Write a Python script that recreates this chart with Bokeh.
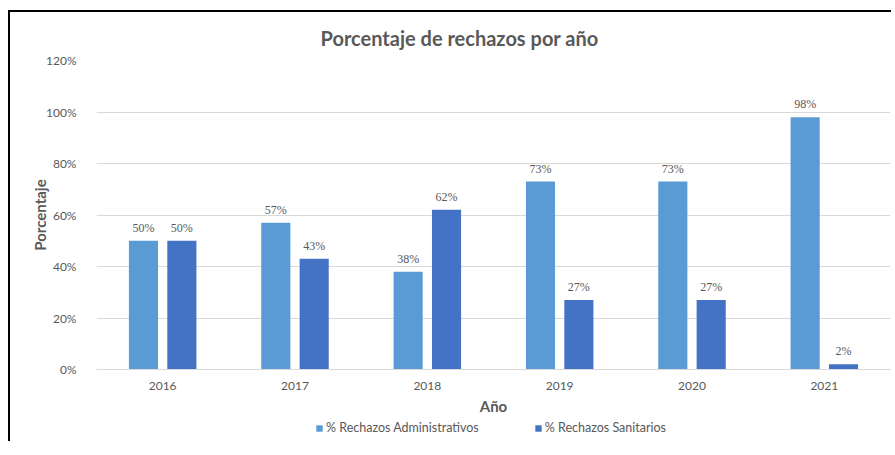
from bokeh.plotting import figure
from bokeh.models import (FactorRange, NumeralTickFormatter, Legend, LegendItem,
                          ColumnDataSource, Range1d, Title)
from bokeh.layouts import column
from bokeh.transform import dodge
from bokeh.embed import file_html
from bokeh.resources import INLINE

years = ["2016", "2017", "2018", "2019", "2020", "2021"]
admin = [0.50, 0.57, 0.38, 0.73, 0.73, 0.98]
sanit = [0.50, 0.43, 0.62, 0.27, 0.27, 0.02]
admin_labels = ["50%", "57%", "38%", "73%", "73%", "98%"]
sanit_labels = ["50%", "43%", "62%", "27%", "27%", "2%"]
y_ticks = [0, 0.2, 0.4, 0.6, 0.8, 1.0, 1.2]
series_names = ["% Rechazos Administrativos", "% Rechazos Sanitarios"]

FONT = "Lato"
TXT = "#595959"
C_ADMIN = "#5B9BD5"
C_SANIT = "#4472C4"

src = ColumnDataSource(dict(year=years, admin=admin, sanit=sanit,
                            admin_lbl=admin_labels, sanit_lbl=sanit_labels))

p = figure(x_range=FactorRange(*years, range_padding=0), y_range=Range1d(0, 1.2),
           frame_width=794, frame_height=309,
           min_border_left=86, min_border_right=3, min_border_top=48, min_border_bottom=46,
           output_backend="svg", toolbar_location=None, title=None)

t = Title(text="Porcentaje de rechazos por año", align="left", offset=224,
          text_font=FONT, text_font_size="20px", text_font_style="bold",
          text_color=TXT, standoff=21)
p.add_layout(t, "above")

r1 = p.vbar(x=dodge("year", -0.145, range=p.x_range), top="admin", width=0.22,
            source=src, color=C_ADMIN, line_color=None)
r2 = p.vbar(x=dodge("year", 0.145, range=p.x_range), top="sanit", width=0.22,
            source=src, color=C_SANIT, line_color=None)

p.text(x=dodge("year", -0.145, range=p.x_range), y="admin", text="admin_lbl", source=src,
       text_align="center", text_baseline="bottom", y_offset=-6,
       text_font="Lato", text_font_size="12px", text_color=TXT)
p.text(x=dodge("year", 0.145, range=p.x_range), y="sanit", text="sanit_lbl", source=src,
       text_align="center", text_baseline="bottom", y_offset=-6,
       text_font="Lato", text_font_size="12px", text_color=TXT)

p.yaxis.ticker = y_ticks
p.yaxis.formatter = NumeralTickFormatter(format="0%")
p.yaxis.axis_label = "Porcentaje"
p.xaxis.axis_label = "Año"
for ax in (p.xaxis, p.yaxis):
    ax.major_tick_line_color = None
    ax.minor_tick_line_color = None
    ax.major_label_text_font = FONT
    ax.major_label_text_font_size = "12px"
    ax.major_label_text_color = TXT
    ax.axis_label_text_font = FONT
    ax.axis_label_text_font_size = "15px"
    ax.axis_label_text_font_style = "bold"
    ax.axis_label_text_color = TXT
p.yaxis.axis_line_color = None
p.yaxis.major_label_standoff = 14
p.yaxis.axis_label_standoff = -6
p.xaxis.axis_line_color = "#d9d9d9"
p.xaxis.major_label_standoff = 6
p.xaxis.axis_label_standoff = 4

p.xgrid.grid_line_color = None
p.ygrid.grid_line_color = "#d9d9d9"
p.outline_line_color = None

# legend strip below the chart
pl = figure(x_range=Range1d(0, 1), y_range=Range1d(0, 1),
            frame_width=794, frame_height=26,
            min_border_left=86, min_border_right=3, min_border_top=0, min_border_bottom=0,
            x_axis_type=None, y_axis_type=None,
            output_backend="svg", toolbar_location=None, title=None)
pl.xgrid.grid_line_color = None
pl.ygrid.grid_line_color = None
pl.outline_line_color = None
# swatch renderers kept entirely outside the visible range (legend keys only)
k1 = pl.vbar(x=[-50], top=[30], bottom=[20], width=0.1, color=C_ADMIN, line_color=None)
k2 = pl.vbar(x=[-50], top=[30], bottom=[20], width=0.1, color=C_SANIT, line_color=None)

legend = Legend(items=[LegendItem(label=series_names[0], renderers=[k1]),
                       LegendItem(label=series_names[1], renderers=[k2])],
                orientation="horizontal", location=(219, 8),
                label_text_font=FONT, label_text_font_size="12.5px", label_text_color=TXT,
                glyph_width=8, glyph_height=8, spacing=55, padding=0, margin=0,
                label_standoff=3, label_height=12, border_line_color=None,
                background_fill_alpha=0)
pl.add_layout(legend)

layout = column(p, pl, spacing=0,
                styles={"box-shadow": "-2px -2px 0 0 #000",
                        "margin-left": "10px", "margin-top": "12px"})

open("out.html", "w").write(file_html(layout, INLINE))
